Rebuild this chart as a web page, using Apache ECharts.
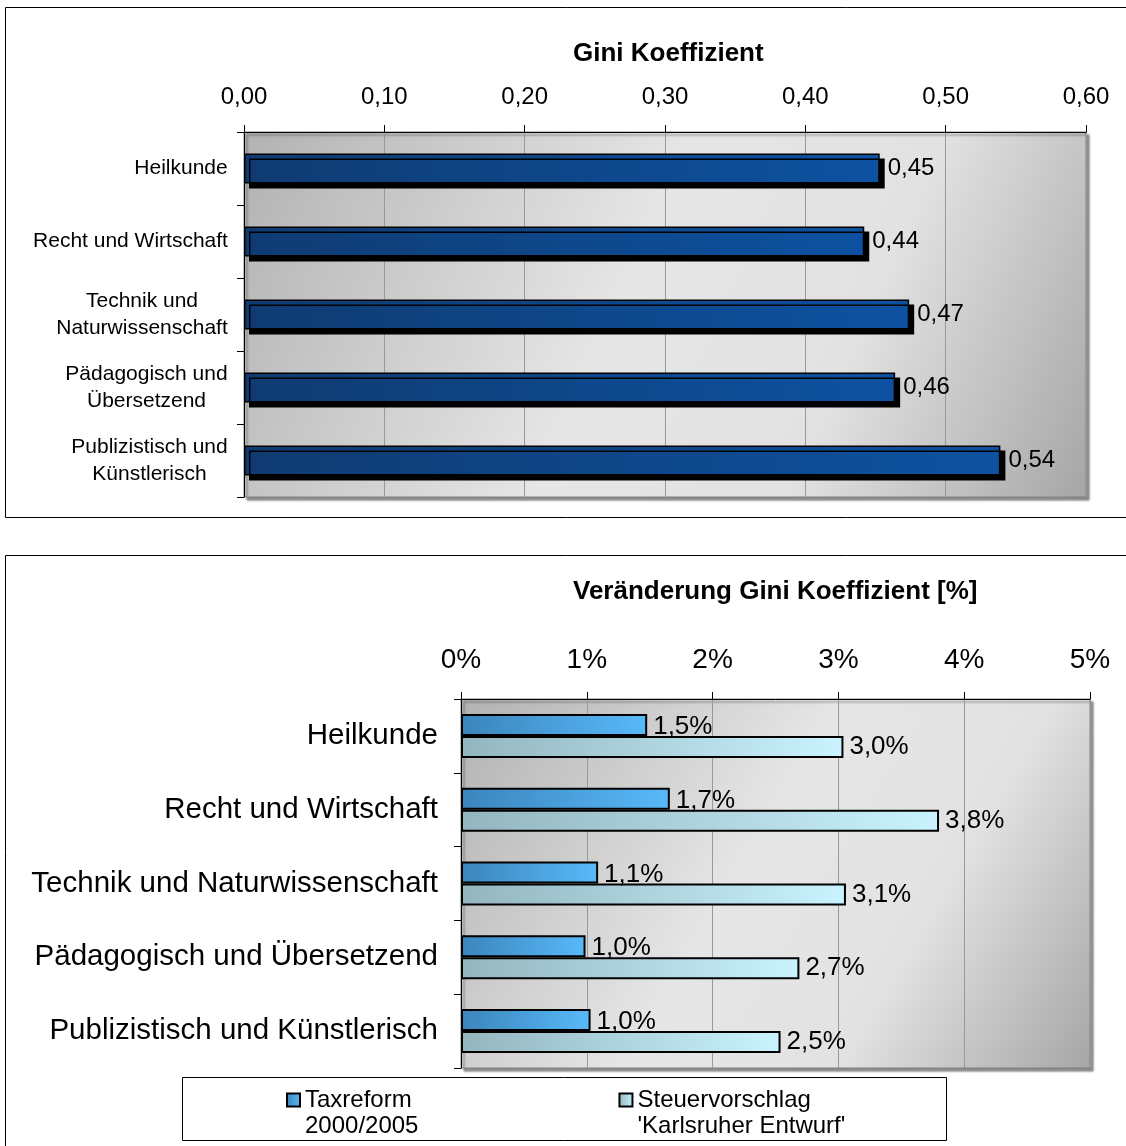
<!DOCTYPE html>
<html>
<head>
<meta charset="utf-8">
<script src="https://cdn.jsdelivr.net/npm/echarts@6/dist/echarts.min.js"></script>
<style>
  html,body{margin:0;padding:0;background:#fff}
  #main{width:1126px;height:1146px}
</style>
</head>
<body>
<div id="main"></div>
<script>
// Gini Koeffizient je Berufsgruppe (oben)
let giniCats = ['Heilkunde','Recht und Wirtschaft','Technik und\nNaturwissenschaft','Pädagogisch und\nÜbersetzend','Publizistisch und\nKünstlerisch']
let giniValues = [0.453,0.442,0.474,0.464,0.539]

// Veränderung in % (unten)
let changeCats = ['Heilkunde','Recht und Wirtschaft','Technik und Naturwissenschaft','Pädagogisch und Übersetzend','Publizistisch und Künstlerisch']
let taxreform = [1.48,1.66,1.09,0.99,1.03]
let steuervorschlag = [3.04,3.80,3.06,2.69,2.54]
let seriesNames = ['Taxreform\n2000/2005',"Steuervorschlag\n'Karlsruher Entwurf'"]

const FONT = '"Liberation Sans", Arial, sans-serif'
const lg = (stops) => new echarts.graphic.LinearGradient(0,0,1,0,stops.map((c,i)=>({offset:i/(stops.length-1),color:c})))
let comma = (v,d) => v.toFixed(d).replace('.',',')

//- mehrzeilige Kategorien zentriert setzen: Breite jeder Beschriftung messen
let ctx = document.createElement('canvas').getContext('2d')
ctx.font = '21px ' + FONT
let catRich = {}
giniCats.forEach((c,i)=>{
  let w = Math.max(...c.split('\n').map(l=>ctx.measureText(l).width))
  catRich['c'+i] = {width:Math.ceil(w),align:'center',fontSize:21,lineHeight:27,fontFamily:FONT,color:'#000'}
})

//- Hintergrund der Plotfläche (grau, diagonal)
function gridOpt(pos){
  return Object.assign({show:true,
    backgroundColor:new echarts.graphic.LinearGradient(0,0,1,1,[
      {offset:0,color:'#b2b2b2'},{offset:0.45,color:'#e6e6e6'},{offset:0.7,color:'#e2e2e2'},{offset:1,color:'#a6a6a6'}]),
    borderColor:'#808080',borderWidth:1,
    shadowColor:'rgba(0,0,0,0.45)',shadowOffsetX:3,shadowOffsetY:3,shadowBlur:2},pos)
}

let myChart = echarts.init(document.getElementById('main'))
let option = {
  animation:false,
  textStyle:{fontFamily:FONT,color:'#000'},
  title:[
    {text:'Gini Koeffizient',left:568,top:36,textStyle:{fontFamily:FONT,fontSize:26,fontWeight:'bold',color:'#000'}},
    {text:'Veränderung Gini Koeffizient [%]',left:568,top:574,textStyle:{fontFamily:FONT,fontSize:26,fontWeight:'bold',color:'#000'}}
  ],
  graphic:[
    {type:'rect',z:-10,shape:{x:5.5,y:7.5,width:1130,height:510},style:{fill:'none',stroke:'#000',lineWidth:1}},
    {type:'rect',z:-10,shape:{x:5.5,y:555.5,width:1130,height:600},style:{fill:'none',stroke:'#000',lineWidth:1}},
    {type:'rect',z:-10,shape:{x:182.5,y:1077.5,width:764,height:63},style:{fill:'#fff',stroke:'#000',lineWidth:1}}
  ],
  legend:{
    data:seriesNames,left:281,top:1056,itemGap:200,itemWidth:13,itemHeight:13,icon:'rect',z:20,
    formatter:n=>'{p| }\n'+n,
    textStyle:{fontFamily:FONT,fontSize:24,color:'#000',lineHeight:26,rich:{p:{fontSize:24,lineHeight:26}}}
  },
  grid:[
    gridOpt({left:244,right:40,top:132,height:365}),
    gridOpt({left:461,right:36,top:699,height:369})
  ],
  xAxis:[
    {gridIndex:0,type:'value',position:'top',min:0,max:0.6,interval:0.1,
      axisLine:{show:true,lineStyle:{color:'#000',width:1}},axisTick:{show:true,length:7,lineStyle:{color:'#000'}},
      axisLabel:{fontFamily:FONT,fontSize:24,color:'#000',margin:23,formatter:v=>comma(v,2)},
      splitLine:{lineStyle:{color:'#999',width:1}}},
    {gridIndex:1,type:'value',position:'top',min:0,max:5,interval:1,
      axisLine:{show:true,lineStyle:{color:'#000',width:1}},axisTick:{show:true,length:7,lineStyle:{color:'#000'}},
      axisLabel:{fontFamily:FONT,fontSize:28,color:'#000',margin:25,formatter:v=>v+'%'},
      splitLine:{lineStyle:{color:'#999',width:1}}}
  ],
  yAxis:[
    {gridIndex:0,type:'category',data:giniCats,inverse:true,
      axisLine:{show:true,lineStyle:{color:'#000'}},axisTick:{show:true,length:7,lineStyle:{color:'#000'}},
      axisLabel:{fontFamily:FONT,fontSize:21,lineHeight:27,color:'#000',margin:16,rich:catRich,
        formatter:(v,i)=>v.split('\n').map(l=>'{c'+i+'|'+l+'}').join('\n')}},
    {gridIndex:1,type:'category',data:changeCats,inverse:true,
      axisLine:{show:true,lineStyle:{color:'#000'}},axisTick:{show:true,length:7,lineStyle:{color:'#000'}},
      axisLabel:{fontFamily:FONT,fontSize:29.5,color:'#000',margin:23}}
  ],
  series:[
    {type:'bar',name:'Gini',xAxisIndex:0,yAxisIndex:0,data:giniValues,barWidth:30,
      itemStyle:{color:lg(['#0f3b72','#0d52a1']),borderColor:'#000',borderWidth:1.5,
        shadowColor:'#000',shadowOffsetX:5,shadowOffsetY:5,shadowBlur:0},
      label:{show:true,position:'right',distance:8,fontFamily:FONT,fontSize:24,color:'#000',formatter:p=>comma(p.value,2)}},
    {type:'bar',name:seriesNames[0],xAxisIndex:1,yAxisIndex:1,data:taxreform,barWidth:22,barGap:'0%',
      itemStyle:{color:lg(['#3b85bc','#58b9f9']),borderColor:'#000',borderWidth:2},
      label:{show:true,position:'right',distance:6,fontFamily:FONT,fontSize:26,color:'#000',offset:[0,2],formatter:p=>comma(p.value,1)+'%'}},
    {type:'bar',name:seriesNames[1],xAxisIndex:1,yAxisIndex:1,data:steuervorschlag,barWidth:22,barGap:'0%',
      itemStyle:{color:lg(['#93b5be','#c9f3fe']),borderColor:'#000',borderWidth:2},
      label:{show:true,position:'right',distance:6,fontFamily:FONT,fontSize:26,color:'#000',formatter:p=>comma(p.value,1)+'%'}}
  ]
}
myChart.setOption(option)
</script>
</body>
</html>
